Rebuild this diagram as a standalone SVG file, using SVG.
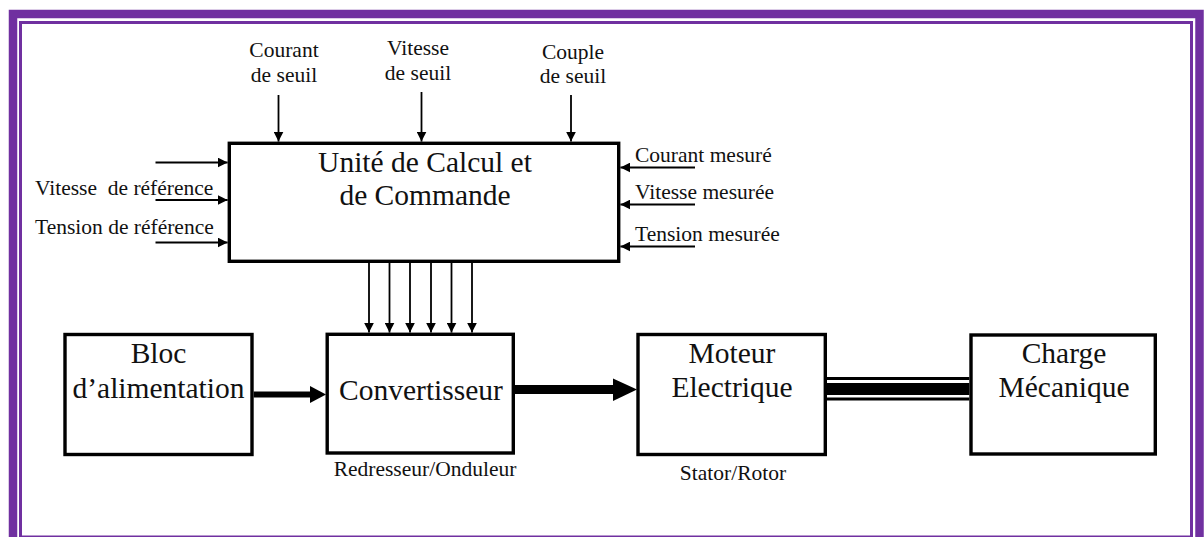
<svg xmlns="http://www.w3.org/2000/svg" width="1204" height="537" viewBox="0 0 1204 537">
  <style>
    .frame-thick { fill: none; stroke: #7030A0; stroke-width: 8.5; }
    .frame-thin { fill: none; stroke: #7030A0; stroke-width: 3; }
    .box { fill: #ffffff; stroke: #000000; stroke-width: 3.4; }
    .big { font-size: 29.5px; fill: #111111; text-anchor: middle; }
    .small { font-size: 21.5px; fill: #111111; }
    .mid { text-anchor: middle; }
    .sig { stroke: #000000; stroke-width: 1.8; fill: none; marker-end: url(#head); }
  </style>
  <defs>
    <marker id="head" markerUnits="userSpaceOnUse" markerWidth="10" markerHeight="10" refX="10" refY="5" orient="auto">
      <path d="M0,0 L10,5 L0,10 Z" fill="#000000"/>
    </marker>
  </defs>

  <!-- page background and double purple border -->
  <rect x="0" y="0" width="1204" height="537" fill="#ffffff"/>
  <rect class="frame-thick" x="13" y="14" width="1186.5" height="600"/>
  <rect class="frame-thin" x="20.5" y="22.5" width="1171" height="514.5"/>

  <!-- control unit -->
  <g id="unite-calcul">
    <rect class="box" x="229.3" y="143.3" width="389.4" height="118"/>
    <text class="big" font-family="Liberation Serif" x="425" y="171.5">Unité de Calcul et</text>
    <text class="big" font-family="Liberation Serif" x="425" y="205">de Commande</text>
  </g>

  <!-- threshold inputs -->
  <g id="courant-seuil">
    <text class="small mid" font-family="Liberation Serif" x="284" y="57">Courant</text>
    <text class="small mid" font-family="Liberation Serif" x="284" y="82">de seuil</text>
  </g>
  <g id="vitesse-seuil">
    <text class="small mid" font-family="Liberation Serif" x="418" y="55">Vitesse</text>
    <text class="small mid" font-family="Liberation Serif" x="418" y="80">de seuil</text>
  </g>
  <g id="couple-seuil">
    <text class="small mid" font-family="Liberation Serif" x="573" y="59">Couple</text>
    <text class="small mid" font-family="Liberation Serif" x="573" y="83">de seuil</text>
  </g>

  <!-- reference inputs -->
  <g id="references">
    <text class="small" font-family="Liberation Serif" x="35" y="195" xml:space="preserve">Vitesse  de référence</text>
    <text class="small" font-family="Liberation Serif" x="35" y="233.5">Tension de référence</text>
  </g>

  <!-- measured values -->
  <g id="mesures">
    <text class="small" font-family="Liberation Serif" x="635" y="161.5">Courant mesuré</text>
    <text class="small" font-family="Liberation Serif" x="635" y="199">Vitesse mesurée</text>
    <text class="small" font-family="Liberation Serif" x="635" y="240.5">Tension mesurée</text>
  </g>

  <!-- power chain -->
  <g id="bloc-alimentation">
    <rect class="box" x="65" y="334.5" width="187" height="120"/>
    <text class="big" font-family="Liberation Serif" x="158.5" y="363">Bloc</text>
    <text class="big" font-family="Liberation Serif" x="158.5" y="398">d’alimentation</text>
  </g>
  <g id="convertisseur">
    <rect class="box" x="327.2" y="334.3" width="186.1" height="118.7"/>
    <text class="big" font-family="Liberation Serif" x="421" y="400">Convertisseur</text>
    <text class="small mid" font-family="Liberation Serif" x="425" y="476">Redresseur/Onduleur</text>
  </g>
  <g id="moteur">
    <rect class="box" x="638" y="334.5" width="187.3" height="120"/>
    <text class="big" font-family="Liberation Serif" x="732" y="363">Moteur</text>
    <text class="big" font-family="Liberation Serif" x="732" y="397">Electrique</text>
    <text class="small mid" font-family="Liberation Serif" x="733" y="480">Stator/Rotor</text>
  </g>
  <g id="charge">
    <rect class="box" x="971" y="335" width="184.3" height="119"/>
    <text class="big" font-family="Liberation Serif" x="1064" y="363">Charge</text>
    <text class="big" font-family="Liberation Serif" x="1064" y="397">Mécanique</text>
  </g>

  <!-- connectors -->
  <g id="connectors">
    <!-- thresholds down into the control unit -->
    <line class="sig" x1="278.5" y1="95" x2="278.5" y2="141.6"/>
    <line class="sig" x1="421.5" y1="92" x2="421.5" y2="141.6"/>
    <line class="sig" x1="571" y1="95" x2="571" y2="141.6"/>
    <!-- references from the left -->
    <line class="sig" x1="155.5" y1="162.5" x2="227.6" y2="162.5"/>
    <line class="sig" x1="155.5" y1="200" x2="227.6" y2="200"/>
    <line class="sig" x1="155.5" y1="242.5" x2="227.6" y2="242.5"/>
    <!-- measurements from the right -->
    <line class="sig" x1="695" y1="167.5" x2="620.4" y2="167.5"/>
    <line class="sig" x1="695" y1="204.5" x2="620.4" y2="204.5"/>
    <line class="sig" x1="695" y1="246.5" x2="620.4" y2="246.5"/>
    <!-- six command signals to the converter -->
    <line class="sig" x1="369" y1="263" x2="369" y2="332.6"/>
    <line class="sig" x1="389.5" y1="263" x2="389.5" y2="332.6"/>
    <line class="sig" x1="410" y1="263" x2="410" y2="332.6"/>
    <line class="sig" x1="431" y1="263" x2="431" y2="332.6"/>
    <line class="sig" x1="451.5" y1="263" x2="451.5" y2="332.6"/>
    <line class="sig" x1="472" y1="263" x2="472" y2="332.6"/>
    <!-- power flow: supply to converter -->
    <line x1="253.7" y1="394.5" x2="311" y2="394.5" stroke="#000000" stroke-width="6"/>
    <path d="M310,386 L326,394.5 L310,403 Z" fill="#000000"/>
    <!-- power flow: converter to motor -->
    <line x1="515" y1="389.5" x2="614" y2="389.5" stroke="#000000" stroke-width="9"/>
    <path d="M613,378.5 L637,389.5 L613,401 Z" fill="#000000"/>
    <!-- mechanical shaft: motor to load -->
    <line x1="827" y1="378.5" x2="969.3" y2="378.5" stroke="#000000" stroke-width="3"/>
    <rect x="827" y="383" width="142.3" height="12" fill="#000000"/>
    <line x1="827" y1="399" x2="969.3" y2="399" stroke="#000000" stroke-width="3"/>
  </g>
</svg>
